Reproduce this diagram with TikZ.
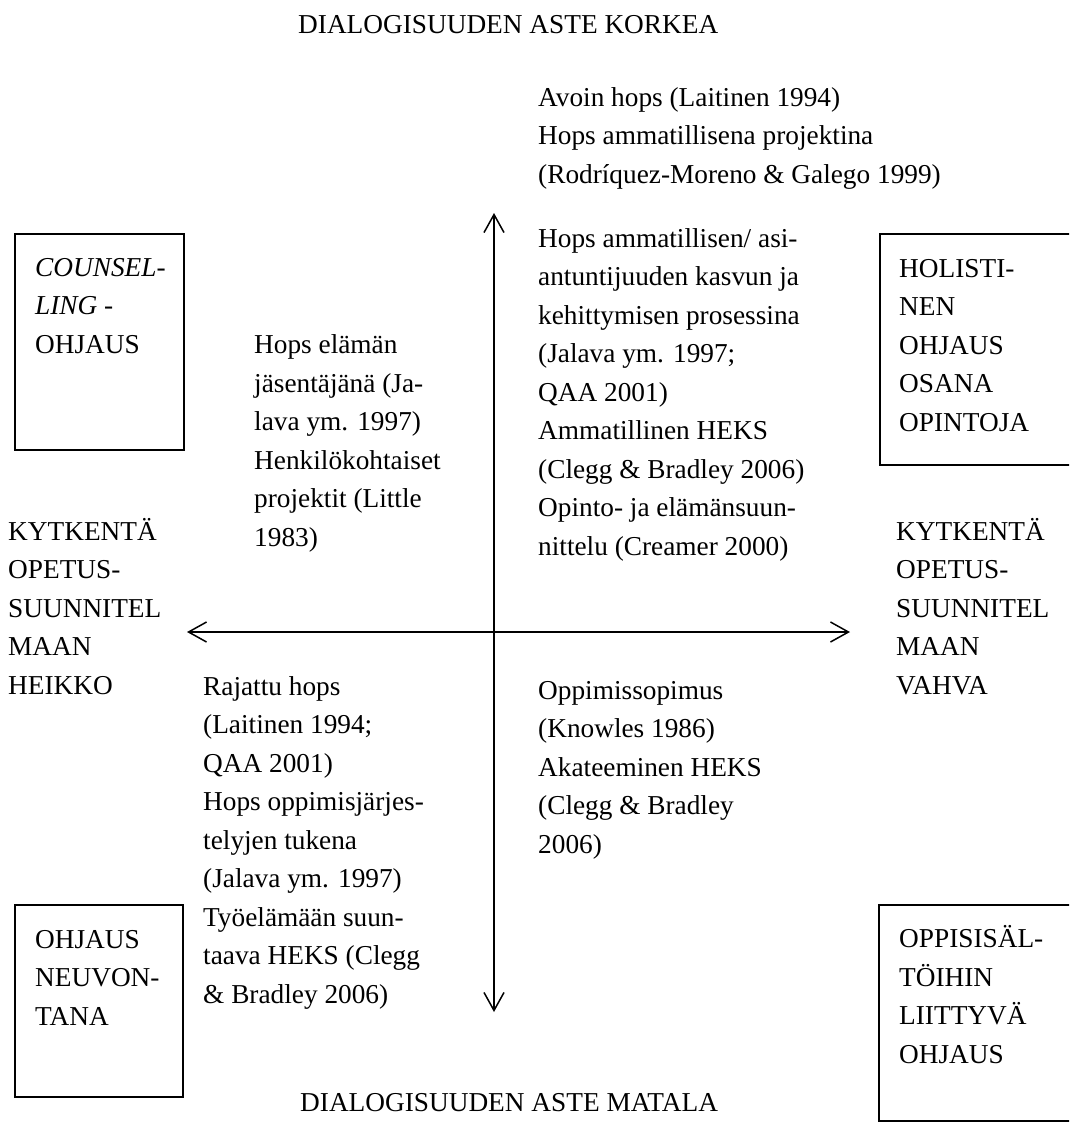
\documentclass[tikz,border=0pt]{standalone}
\usepackage{fontspec}
\setmainfont{Liberation Serif}
\usetikzlibrary{arrows.meta}
\begin{document}
% multi-line labels are placed by the baseline of their last line
\begin{tikzpicture}[x=1pt,y=-1pt,
  txt/.style={anchor=base west, align=left, inner sep=0pt,
    font=\fontsize{27.3}{38.5}\selectfont},
  frame/.style={draw, line width=1.5pt, anchor=north west, inner sep=0pt},
  barb/.tip={Straight Barb[length=18pt,width=20pt]},
  axis/.style={line width=1.5pt, barb-barb}]
\useasboundingbox (0,0) rectangle (1069,1133);

% framed boxes in the four corners (the right ones run off the page edge)
\begin{scope}
  \clip (0,0) rectangle (1069,1133);
  \node[frame, minimum width=169pt, minimum height=216pt] (boxnw) at (14,233) {};
  \node[frame, minimum width=200pt, minimum height=231pt] (boxne) at (879,233) {};
  \node[frame, minimum width=168pt, minimum height=192pt] (boxsw) at (14,904) {};
  \node[frame, minimum width=200pt, minimum height=216pt] (boxse) at (878,904) {};
\end{scope}

% axes
\coordinate (axN) at (494,213);
\coordinate (axS) at (494,1012);
\coordinate (axW) at (187,632);
\coordinate (axE) at (850,632);
\draw[axis] (axS) -- (axN);
\draw[axis] (axW) -- (axE);

% axis titles
\node[txt] (titletop) at (298,33) {DIALOGISUUDEN ASTE KORKEA};
\node[txt] (titlebot) at (300,1111) {DIALOGISUUDEN ASTE MATALA};
\node[txt] (lblW) at (8,694) {KYTKENTÄ\\OPETUS-\\SUUNNITEL\\MAAN\\HEIKKO};
\node[txt] (lblE) at (896,694) {KYTKENTÄ\\OPETUS-\\SUUNNITEL\\MAAN\\VAHVA};

% box texts
\node[txt] (tnw) at (35,353) {\textit{COUNSEL-}\\\textit{LING} -\\OHJAUS};
\node[txt] (tne) at (899,431) {HOLISTI-\\NEN\\OHJAUS\\OSANA\\OPINTOJA};
\node[txt] (tsw) at (35,1025) {OHJAUS\\NEUVON-\\TANA};
\node[txt] (tse) at (899,1063) {OPPISISÄL-\\TÖIHIN\\LIITTYVÄ\\OHJAUS};

% quadrant contents
\node[txt] (ura) at (538,183) {Avoin hops (Laitinen 1994)\\Hops ammatillisena projektina\\(Rodríquez-Moreno \& Galego 1999)};
\node[txt] (urb) at (538,555) {Hops ammatillisen/ asi-\\antuntijuuden kasvun ja\\kehittymisen prosessina\\(Jalava ym. 1997;\\QAA 2001)\\Ammatillinen HEKS\\(Clegg \& Bradley 2006)\\Opinto- ja elämänsuun-\\nittelu (Creamer 2000)};
\node[txt] (ul) at (254,546) {Hops elämän\\jäsentäjänä (Ja-\\lava ym. 1997)\\Henkilökohtaiset\\projektit (Little\\1983)};
\node[txt] (ll) at (203,1003) {Rajattu hops\\(Laitinen 1994;\\QAA 2001)\\Hops oppimisjärjes-\\telyjen tukena\\(Jalava ym. 1997)\\Työelämään suun-\\taava HEKS (Clegg\\\& Bradley 2006)};
\node[txt] (lr) at (538,853) {Oppimissopimus\\(Knowles 1986)\\Akateeminen HEKS\\(Clegg \& Bradley\\2006)};
\end{tikzpicture}
\end{document}
